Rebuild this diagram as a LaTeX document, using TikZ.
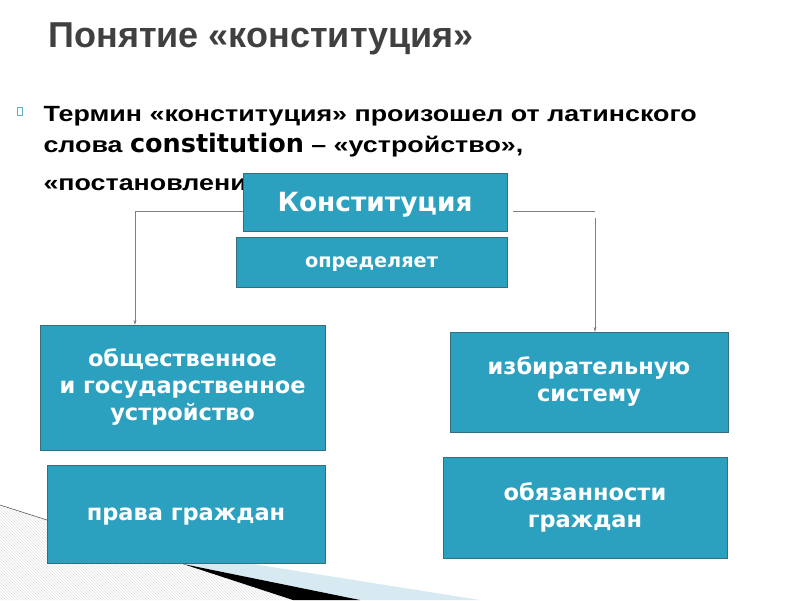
\documentclass[tikz,border=0pt]{standalone}
\usepackage{fontspec}
\setmainfont{Liberation Sans}
\newfontfamily\boxfont{DejaVu Sans}
\newfontfamily\bodyfont[FakeStretch=1.22]{Liberation Sans}
\usetikzlibrary{arrows.meta, positioning, patterns}

\definecolor{boxteal}{RGB}{44,161,191}
\definecolor{boxedge}{RGB}{52,110,128}
\definecolor{titlegray}{RGB}{64,64,64}
\definecolor{bulletblue}{RGB}{90,175,205}
\definecolor{swooshblue}{RGB}{215,234,242}

\begin{document}
\begin{tikzpicture}[x=1pt, y=-1pt, >={Stealth[length=5pt, width=3pt]},
    box/.style={draw=boxedge, fill=boxteal, text=white, align=center, inner sep=0pt,
      font=\boxfont\bfseries\fontsize{22.5}{27}\selectfont},
    link/.style={draw=gray, line width=0.6pt},
    bodytext/.style={anchor=base west, font=\bodyfont\bfseries\fontsize{22}{26}\selectfont}]
    \useasboundingbox (0,0) rectangle (800,600);

    % Decoration at the bottom
    \fill [pattern=north west lines, pattern color=gray!25] (0,505) -- (183,564) -- (293,600) -- (0,600) -- cycle;
    \fill [swooshblue] (183,564) -- (253,564) -- (480,600) -- (360,600) -- cycle;
    \fill [black] (183,564) -- (360,600) -- (293,600) -- cycle;
    \draw [gray!70!black, line width=0.6pt] (0,505) -- (47,520);

    % Title and text
    \node [anchor=base west, text=titlegray, font=\bfseries\fontsize{36}{40}\selectfont] (title) at (45,47) {Понятие «конституция»};
    \node [draw=bulletblue, line width=0.6pt, minimum width=5pt, minimum height=8pt, inner sep=0pt] (bullet) at (20,111) {};
    \node [bodytext] (line1) at (40,121) {Термин «конституция» произошел от латинского};
    \node [bodytext] (line2) at (40,152) {слова {\boxfont\fontsize{25.5}{26}\selectfont constitution} – «устройство»,};
    \node [bodytext] (line3) at (40,190) {«постановление»};

    % Boxes
    \node [box, text depth=0pt, minimum width=264pt, minimum height=58pt, font=\boxfont\bfseries\fontsize{26.4}{30}\selectfont] (konst) at (375,202) {Конституция};
    \node [box, text depth=0pt, minimum width=271pt, minimum height=50pt, font=\boxfont\bfseries\fontsize{19.3}{24}\selectfont] (opred) at (371.5,262) {определяет};
    \node [box, minimum width=285pt, minimum height=125pt] (obsch) at (182.5,387.5) {общественное\\и государственное\\устройство};
    \node [box, minimum width=278pt, minimum height=100pt] (izbir) at (589,382) {избирательную\\систему};
    \node [box, text depth=0pt, minimum width=278pt, minimum height=98pt] (prava) at (186,514) {права граждан};
    \node [box, minimum width=284pt, minimum height=101pt] (obyaz) at (585,507.5) {обязанности\\граждан};

    % Connectors
    \coordinate (lk) at ([yshift=-9pt]konst.west);
    \coordinate (rk) at ([xshift=6pt, yshift=-9pt]konst.east);
    \coordinate (rt) at ([xshift=6pt]izbir.north |- rk);
    \draw [link, ->] (lk) -| ([xshift=-47.5pt]obsch.north);
    \draw [link] (rk) -- (rt);
    \draw [link, ->] ([yshift=-7pt]rt) -- ([xshift=6pt]izbir.north);
\end{tikzpicture}
\end{document}
